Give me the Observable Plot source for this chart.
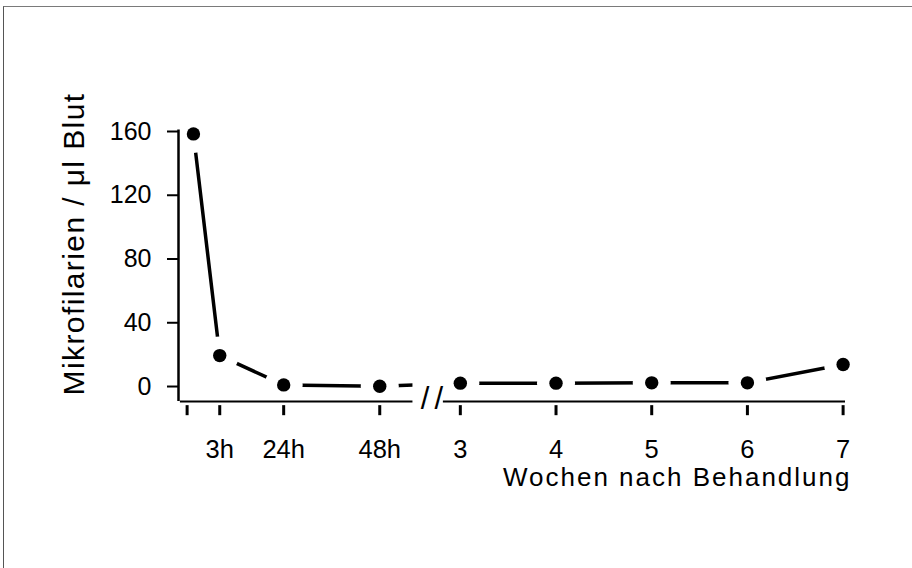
<!DOCTYPE html>
<html>
<head>
<meta charset="utf-8">
<script src="https://cdn.jsdelivr.net/npm/d3@7"></script>
<script src="https://cdn.jsdelivr.net/npm/@observablehq/plot@0.6"></script>
<style>
  html, body { margin: 0; padding: 0; background: #fff; }
  #wrap { position: relative; width: 912px; height: 568px; overflow: hidden; }
  #frame { position: absolute; left: 3px; top: 6px; right: 0; bottom: 0;
           border-top: 1.5px solid #7a7a7a; border-left: 1.2px solid #555; pointer-events: none; }
  #chart { position: absolute; left: 0; top: 0; }
</style>
</head>
<body>
<div id="wrap"><div id="chart"></div><div id="frame"></div></div>
<script>
// ---- data ----
const tickLabels = ["", "3h", "24h", "48h", "3", "4", "5", "6", "7"];
const tickSlots  = [0, 0.341, 1.009, 2.013, 2.855, 3.855, 4.855, 5.855, 6.855];
const pointSlots = [0.066, 0.341, 1.009, 2.013, 2.855, 3.855, 4.855, 5.855, 6.855];
const values     = [158.5, 19.4, 1.0, 0.2, 2.1, 2.1, 2.3, 2.3, 13.8];
const yTicks     = [0, 40, 80, 120, 160];
const xTitle = "Wochen nach Behandlung";
const yTitle = "Mikrofilarien / μl Blut";
const axisBreak = {from: 2.36, to: 2.678, mark: 2.584};

const points = values.map((v, i) => ({slot: pointSlots[i], value: v}));
const ticks = tickLabels.map((l, i) => ({slot: tickSlots[i], label: l}));

const xMin = -0.09, xMax = 6.88, yMin = -9.4, yMax = 160;

const chart = Plot.plot({
  width: 912, height: 568,
  marginLeft: 178, marginRight: 67, marginTop: 131, marginBottom: 167,
  style: {fontFamily: "'Liberation Sans', Arial, Helvetica, sans-serif", color: "#000", background: "transparent"},
  x: {domain: [xMin, xMax], axis: null},
  y: {domain: [yMin, yMax], axis: null},
  marks: [
    Plot.line(points, {x: "slot", y: "value", stroke: "#000", strokeWidth: 3.5}),
    Plot.rect([axisBreak], {x1: "from", x2: "to", y1: () => -6, y2: () => 12, fill: "#fff"}),
    Plot.dot(points, {x: "slot", y: "value", r: 19, fill: "#fff"}),
    Plot.dot(points, {x: "slot", y: "value", r: 6.7, fill: "#000"}),
    // y axis
    Plot.ruleX([xMin], {y1: yMin, y2: 161, stroke: "#000", strokeWidth: 2.5}),
    Plot.axisY({ticks: yTicks, anchor: "left", tickSize: 11, tickPadding: 16, fontSize: 25, strokeWidth: 2, label: null}),
    // x axis with break
    Plot.ruleY([{x1: -0.07, x2: axisBreak.from}, {x1: axisBreak.to, x2: xMax}],
      {y: () => yMin, x1: "x1", x2: "x2", stroke: "#000", strokeWidth: 2}),
    Plot.ruleX(ticks, {x: "slot", y1: () => -12, y2: () => -18.3, stroke: "#000", strokeWidth: 3}),
    Plot.text(ticks, {x: "slot", text: "label", frameAnchor: "bottom", lineAnchor: "middle", dy: 48, fontSize: 25.5}),
    Plot.text([axisBreak], {x: "mark", text: () => "//", frameAnchor: "bottom", lineAnchor: "middle", dy: -2, fontSize: 31}),
    Plot.text([xTitle], {frameAnchor: "bottom-right", textAnchor: "end", lineAnchor: "middle", dx: 6, dy: 76, fontSize: 26}),
    Plot.text([yTitle], {frameAnchor: "left", textAnchor: "middle", lineAnchor: "middle", rotate: -90, dx: -104.5, dy: -22.5, fontSize: 30})
  ]
});

document.getElementById("chart").appendChild(chart);
chart.querySelectorAll("text").forEach(t => {
  const s = t.textContent;
  if (s === xTitle) t.setAttribute("letter-spacing", "2");
  if (s === yTitle) t.setAttribute("letter-spacing", "1.4");
  if (s === "//") t.setAttribute("letter-spacing", "5");
});
</script>
</body>
</html>
